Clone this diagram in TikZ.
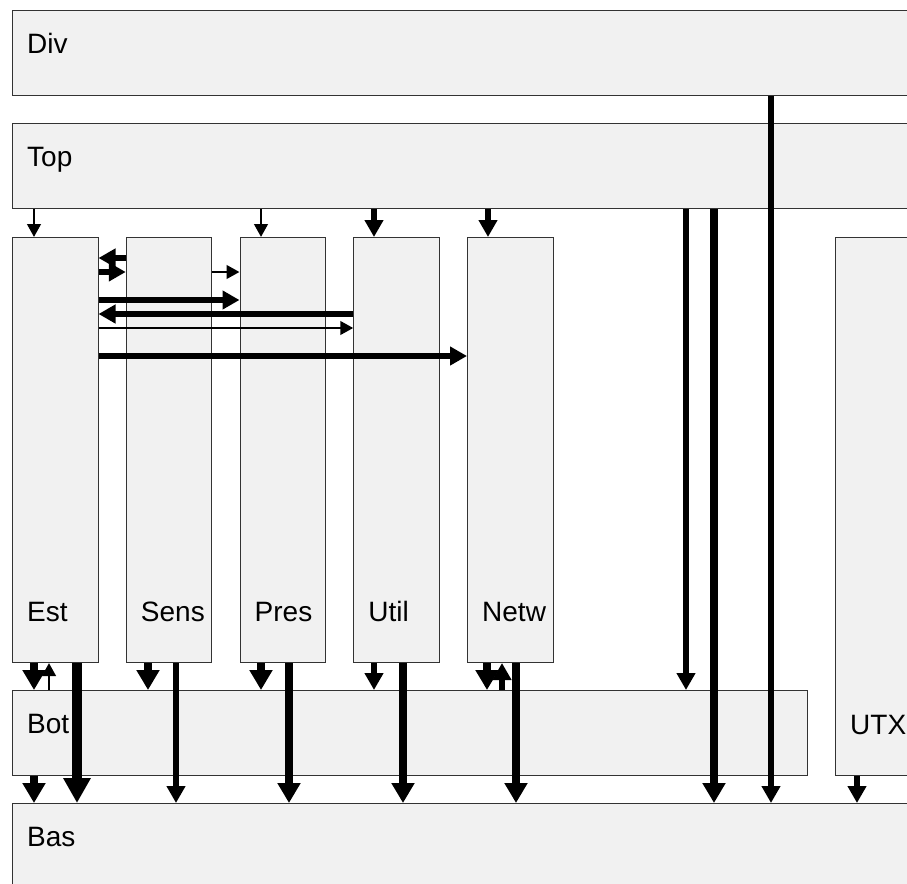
\documentclass[tikz,border=0pt]{standalone}
\usepackage{fontspec}
\setmainfont{Liberation Sans}
\usetikzlibrary{arrows.meta,positioning}
\definecolor{boxline}{RGB}{51,51,51}
\definecolor{boxfill}{RGB}{241,241,241}

\begin{document}
\begin{tikzpicture}[x=1bp, y=-1bp,
  box/.style={rectangle, draw=boxline, fill=boxfill, line width=1bp, inner sep=0pt, anchor=north west},
  col/.style={box, minimum width=85.5bp, minimum height=425bp},
  lbl/.style={inner sep=0pt, anchor=base west, font=\fontsize{28bp}{34bp}\selectfont},
  thinar/.style={line width=2.7bp, -{Triangle[width=13.5bp,length=13bp]}},
  midar/.style={line width=5.5bp, -{Triangle[width=18bp,length=17bp]}},
  thickar/.style={line width=8bp, -{Triangle[width=22bp,length=20bp]}},
  fatar/.style={line width=10bp, -{Triangle[width=26bp,length=25bp]}}]
\useasboundingbox (0,0) rectangle (907,884);
\clip (0,0) rectangle (907,884);

\node (div) [box, minimum width=925bp, minimum height=85bp] at (12,10) {};
\node (top) [box, minimum width=925bp, minimum height=85bp] at (12,123) {};
\node (est) [col] at (12,237) {};
\node (sens) [col, right=27.25bp of est] {};
\node (pres) [col, right=27.25bp of sens] {};
\node (util) [col, right=27.25bp of pres] {};
\node (netw) [col, right=27.25bp of util] {};
\node (utx) [box, minimum width=100bp, minimum height=538bp] at (835,237) {};
\node (bot) [box, minimum width=795bp, minimum height=85bp] at (12,690) {};
\node (bas) [box, minimum width=925bp, minimum height=100bp] at (12,803) {};

\node (divtxt) [lbl] at ([shift={(15,43)}]div.north west) {Div};
\node (toptxt) [lbl] at ([shift={(15,43)}]top.north west) {Top};
\node (bottxt) [lbl] at ([shift={(15,43)}]bot.north west) {Bot};
\node (bastxt) [lbl] at ([shift={(15,43)}]bas.north west) {Bas};
\node (utxtxt) [lbl] at ([shift={(15,-42)}]utx.south west) {UTX};
\node (esttxt) [lbl] at ([shift={(15,-42)}]est.south west) {Est};
\node (senstxt) [lbl] at ([shift={(15,-42)}]sens.south west) {Sens};
\node (prestxt) [lbl] at ([shift={(15,-42)}]pres.south west) {Pres};
\node (utiltxt) [lbl] at ([shift={(15,-42)}]util.south west) {Util};
\node (netwtxt) [lbl] at ([shift={(15,-42)}]netw.south west) {Netw};

\draw [thinar] (top.south -| 34,0) -- (est.north -| 34,0);
\draw [thinar] (top.south -| 261,0) -- (pres.north -| 261,0);
\draw [midar] (top.south -| 374,0) -- (util.north -| 374,0);
\draw [midar] (top.south -| 488,0) -- (netw.north -| 488,0);

\draw [midar] (sens.west |- 0,258) -- (est.east |- 0,258);
\draw [midar] (est.east |- 0,272) -- (sens.west |- 0,272);
\draw [thinar] (sens.east |- 0,272) -- (pres.west |- 0,272);
\draw [midar] (est.east |- 0,300) -- (pres.west |- 0,300);
\draw [midar] (util.west |- 0,314) -- (est.east |- 0,314);
\draw [thinar] (est.east |- 0,328) -- (util.west |- 0,328);
\draw [midar] (est.east |- 0,356) -- (netw.west |- 0,356);

\draw [thickar] (est.south -| 34,0) -- (bot.north -| 34,0);
\draw [thinar] (bot.north -| 49,0) -- (est.south -| 49,0);
\draw [thickar] (sens.south -| 148,0) -- (bot.north -| 148,0);
\draw [thickar] (pres.south -| 261,0) -- (bot.north -| 261,0);
\draw [midar] (util.south -| 374,0) -- (bot.north -| 374,0);
\draw [thickar] (netw.south -| 487,0) -- (bot.north -| 487,0);
\draw [midar] (bot.north -| 502,0) -- (netw.south -| 502,0);
\draw [midar] (top.south -| 686,0) -- (bot.north -| 686,0);

\draw [thickar] (bot.south -| 34,0) -- (bas.north -| 34,0);
\draw [fatar] (est.south -| 77,0) -- (bas.north -| 77,0);
\draw [midar] (sens.south -| 176,0) -- (bas.north -| 176,0);
\draw [thickar] (pres.south -| 289,0) -- (bas.north -| 289,0);
\draw [thickar] (util.south -| 403,0) -- (bas.north -| 403,0);
\draw [thickar] (netw.south -| 516,0) -- (bas.north -| 516,0);
\draw [thickar] (top.south -| 714,0) -- (bas.north -| 714,0);
\draw [midar] (div.south -| 771,0) -- (bas.north -| 771,0);
\draw [midar] (utx.south -| 857,0) -- (bas.north -| 857,0);
\end{tikzpicture}
\end{document}
